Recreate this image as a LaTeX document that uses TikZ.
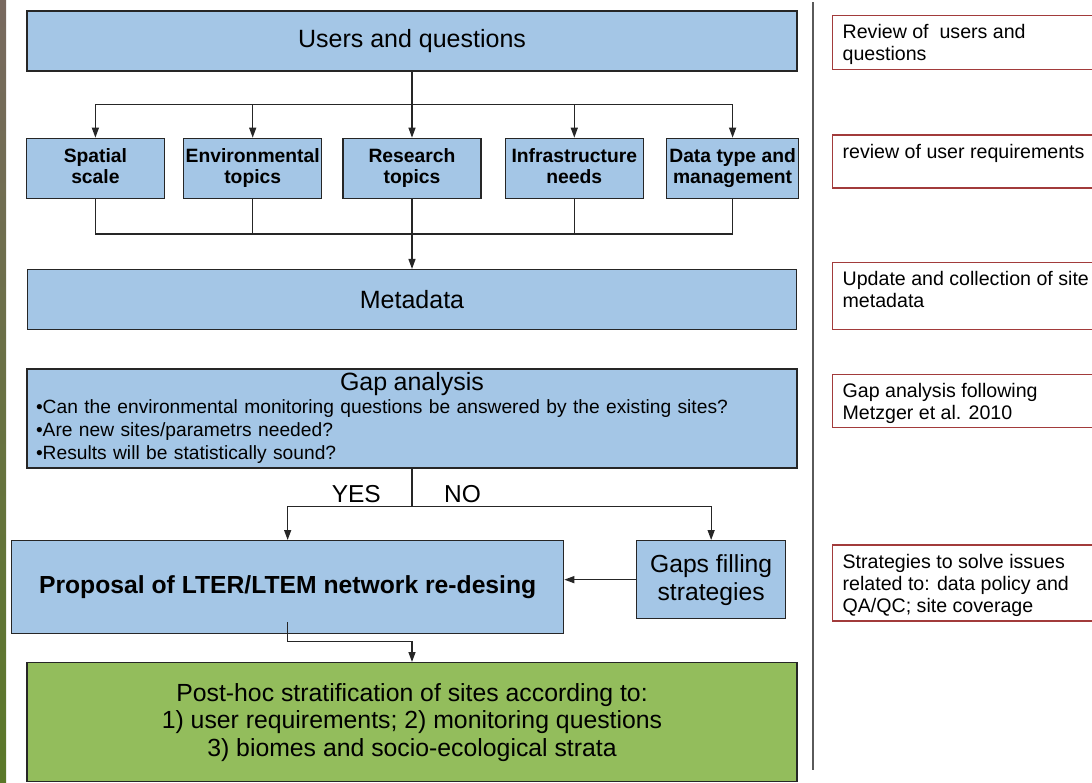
\documentclass[tikz,border=0pt]{standalone}
\usepackage{fontspec}
\setmainfont{Liberation Sans}
\usetikzlibrary{positioning,arrows.meta}
\definecolor{azulclaro}{HTML}{A4C6E6}
\definecolor{verdeclaro}{HTML}{93BD5C}
\definecolor{granate}{HTML}{A23B3B}
\definecolor{gris}{HTML}{5A5A5A}
\definecolor{fototop}{RGB}{120,105,95}
\definecolor{fotomid}{RGB}{150,160,50}
\definecolor{fotobot}{RGB}{90,120,40}

\begin{document}
\begin{tikzpicture}[x=1pt, y=1pt, >={Triangle[length=10pt, width=7pt]},
    caja/.style={draw=black!85, line width=1.3pt, fill=azulclaro, align=center, inner sep=0pt},
    tema/.style={caja, minimum width=138pt, minimum height=60pt, font=\bfseries\fontsize{19.3}{21}\selectfont,
                 execute at begin node=\rule{0pt}{20pt}, execute at end node=\rule[-4pt]{0pt}{4pt}},
    ancha/.style={caja, minimum width=770pt, minimum height=60pt, font=\fontsize{25}{30}\selectfont},
    nota/.style={draw=granate, line width=1.3pt, fill=white, inner xsep=10pt, inner ysep=9pt, font=\fontsize{19.6}{22}\selectfont},
    etiq/.style={inner sep=0pt, font=\fontsize{24.5}{24}\selectfont},
    linea/.style={line width=1.3pt, black!85}]
  \useasboundingbox (0,0) rectangle (1092,-782);
  % borde de la foto de fondo
  \shade[top color=fototop, middle color=fotomid, bottom color=fotobot] (0,0) rectangle (6,-782);

  % flujo principal
  \node[ancha] (users) at (412,-41) {Users and questions};
  \node[tema, below=66pt of users] (research) {Research\\topics};
  \node[tema, left=20pt of research] (envir) {Environmental\\topics};
  \node[tema, left=18pt of envir] (spatial) {Spatial\\scale};
  \node[tema, right=23pt of research] (infra) {Infrastructure\\needs};
  \node[tema, right=22pt of infra, minimum width=132pt] (datos) {Data type and\\management};
  \node[ancha, below=70pt of research, minimum width=769pt] (meta) {Metadata};
  \node[caja, below=38pt of meta, minimum width=770pt, minimum height=99pt, text width=752pt,
        align=left, font=\fontsize{19.2}{23}\selectfont] (gap)
       {\makebox[752pt]{\fontsize{25}{23}\selectfont Gap analysis}\\
        •Can the environmental monitoring questions be answered by the existing sites?\\
        •Are new sites/parametrs needed?\\
        •Results will be statistically sound?};
  \node[caja, minimum width=552pt, minimum height=93pt, anchor=north west,
        font=\bfseries\fontsize{24.7}{30}\selectfont] (prop) at (11,-540) {Proposal of LTER/LTEM network re-desing};
  \node[caja, minimum width=149pt, minimum height=78pt, anchor=north west,
        font=\fontsize{24.7}{28}\selectfont] (gaps) at (636,-540) {Gaps filling\\strategies};
  \node[caja, fill=verdeclaro, minimum width=770pt, minimum height=119pt, anchor=north,
        font=\fontsize{24.8}{27.5}\selectfont] (post) at (412,-662)
       {Post-hoc stratification of sites according to:\\
        1) user requirements; 2) monitoring questions\\
        3) biomes and socio-ecological strata};

  % conectores
  \draw[linea] (users.south) -- ++(0,-33) coordinate (arriba);
  \foreach \n in {spatial,envir,research,infra,datos}
    \draw[linea,->] (arriba) -| (\n);
  \path (research.south) ++(0,-35) coordinate (abajo);
  \foreach \n in {spatial,envir,research,infra,datos}
    \draw[linea] (\n.south) |- (abajo);
  \draw[linea,->] (abajo) -- (meta);
  \draw[linea] (gap.south) -- ++(0,-38) coordinate (cruce);
  \draw[linea,->] (cruce) -| (prop);
  \draw[linea,->] (cruce) -| (gaps);
  \node[etiq, above left=4pt and 31pt of cruce] (si) {YES};
  \node[etiq, above right=4pt and 32pt of cruce] (no) {NO};
  \draw[linea,->] (gaps) -- (gaps -| prop.east);
  \draw[linea,->] ([yshift=12pt]prop.south) -- ++(0,-19) -| (post);

  % columna de notas
  \draw[gris, line width=1.5pt] (813,-2) -- (813,-770);
  \node[nota, anchor=north west] (n1) at (832,-15) {\parbox[t][36pt][t]{250pt}{Review of\ \ users and\\questions}};
  \node[nota, below=64pt of n1] (n2) {\parbox[t][35pt][t]{250pt}{review of user requirements}};
  \node[nota, below=73pt of n2] (n3) {\parbox[t][49pt][t]{250pt}{Update and collection of site\\metadata}};
  \node[nota, below=44pt of n3] (n4) {\parbox[t][35pt][t]{250pt}{Gap analysis following\\Metzger et al. 2010}};
  \node[nota, below=116pt of n4] (n5) {\parbox[t][58pt][t]{250pt}{Strategies to solve issues\\related to: data policy and\\QA/QC; site coverage}};
\end{tikzpicture}
\end{document}
